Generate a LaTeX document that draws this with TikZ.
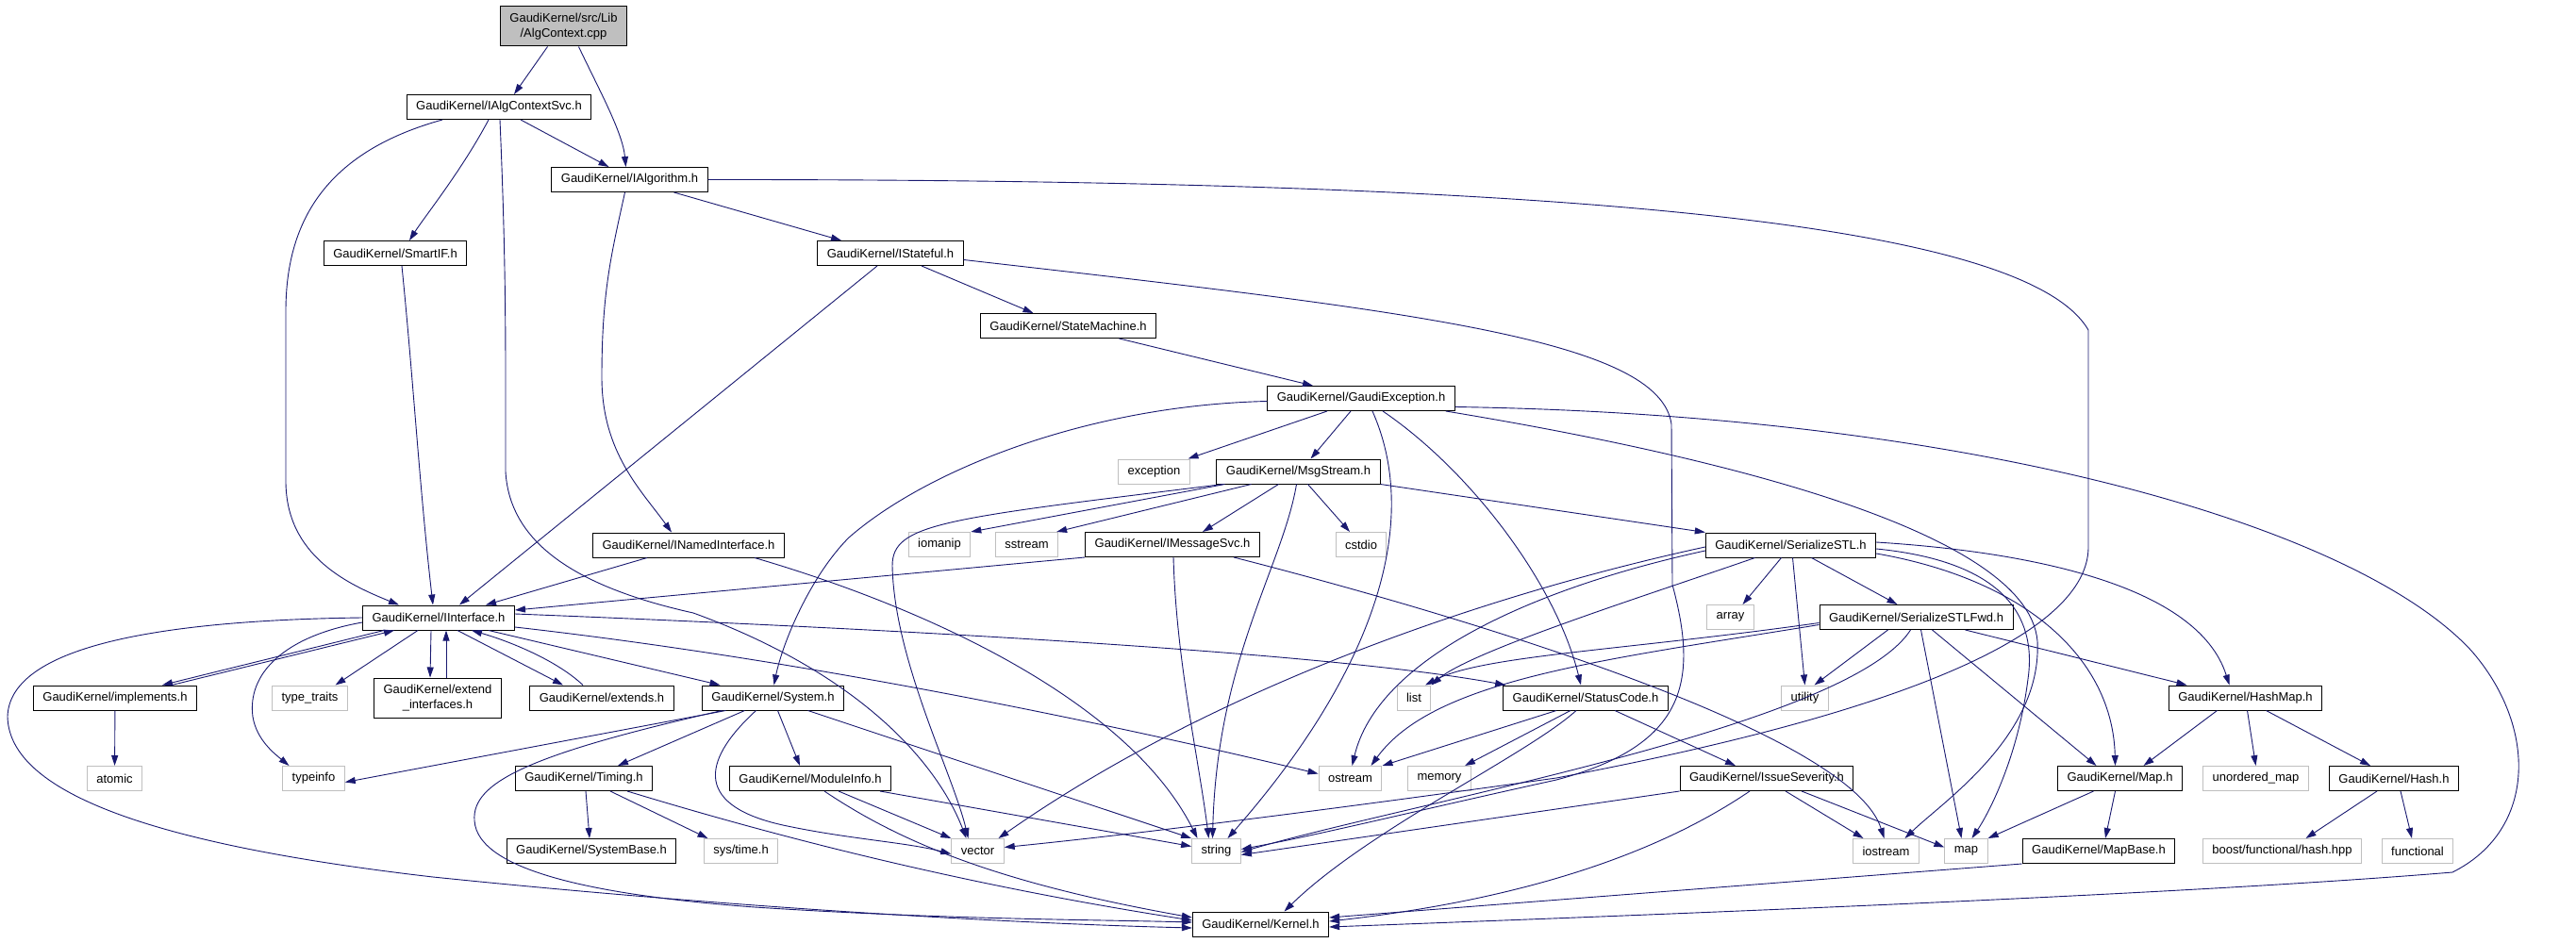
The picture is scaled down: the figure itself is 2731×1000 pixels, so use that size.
\documentclass[tikz,border=0pt]{standalone}
\usepackage{fontspec}
\setmainfont{Liberation Sans}
\usetikzlibrary{arrows.meta}
\definecolor{edgeblue}{RGB}{25,25,112}
\definecolor{sysgray}{RGB}{191,191,191}

\begin{document}
\begin{tikzpicture}[x=1pt,y=-1pt,->,>={Triangle[length=11pt,width=7pt]},
      every node/.style={font=\fontsize{13}{16}\selectfont},
      file/.style={draw=black,line width=1pt,inner xsep=10pt,inner ysep=2pt,minimum height=26pt,align=center},
      sys/.style={file,draw=sysgray},
      twoline/.style={file,minimum height=42pt},
      dep/.style={color=edgeblue,line width=0.9pt}]
			\fill[white] (0,0) rectangle (2731,1000);
			\useasboundingbox (0,0) rectangle (2731,1000);
			\node[twoline,fill=sysgray] (cpp) at (597.5,28) {GaudiKernel/src/Lib\\/AlgContext.cpp};
			\node[file] (algsvc) at (529,113.5) {GaudiKernel/IAlgContextSvc.h};
			\node[file] (ialg) at (667.5,190.5) {GaudiKernel/IAlgorithm.h};
			\node[file] (smartif) at (419,268.5) {GaudiKernel/SmartIF.h};
			\node[file] (istateful) at (944,268.5) {GaudiKernel/IStateful.h};
			\node[file] (statem) at (1132.5,345.5) {GaudiKernel/StateMachine.h};
			\node[file] (gexc) at (1443,422.5) {GaudiKernel/GaudiException.h};
			\node[sys] (exception) at (1223.5,500) {exception};
			\node[file] (msgstream) at (1376.5,500) {GaudiKernel/MsgStream.h};
			\node[file] (inamed) at (730,578) {GaudiKernel/INamedInterface.h};
			\node[sys] (iomanip) at (996,577.5) {iomanip};
			\node[sys] (sstream) at (1088.5,577.5) {sstream};
			\node[file] (imsgsvc) at (1243,577.5) {GaudiKernel/IMessageSvc.h};
			\node[sys] (cstdio) at (1443,577.5) {cstdio};
			\node[file] (sstl) at (1898.5,578) {GaudiKernel/SerializeSTL.h};
			\node[file] (iintf) at (465,655) {GaudiKernel/IInterface.h};
			\node[sys] (array) at (1834.5,654.5) {array};
			\node[file] (sstlfwd) at (2031.5,654.5) {GaudiKernel/SerializeSTLFwd.h};
			\node[file] (implements) at (122,740) {GaudiKernel/implements.h};
			\node[sys] (typetraits) at (328.5,740) {type\_traits};
			\node[twoline] (extendif) at (464,740) {GaudiKernel/extend\\\_interfaces.h};
			\node[file] (extends) at (638,740) {GaudiKernel/extends.h};
			\node[file] (system) at (819.5,740) {GaudiKernel/System.h};
			\node[sys] (list) at (1499,740) {list};
			\node[file] (statuscode) at (1681,740) {GaudiKernel/StatusCode.h};
			\node[sys] (utility) at (1913.5,740) {utility};
			\node[file] (hashmap) at (2380.5,740) {GaudiKernel/HashMap.h};
			\node[sys] (atomic) at (121.5,825.5) {atomic};
			\node[sys] (typeinfo) at (332.5,825.5) {typeinfo};
			\node[file] (timing) at (619,825.5) {GaudiKernel/Timing.h};
			\node[file] (moduleinfo) at (859,825.5) {GaudiKernel/ModuleInfo.h};
			\node[sys] (ostream) at (1431.5,825.5) {ostream};
			\node[sys] (memory) at (1526,825.5) {memory};
			\node[file] (issuesev) at (1873,825.5) {GaudiKernel/IssueSeverity.h};
			\node[file] (maph) at (2247.5,825.5) {GaudiKernel/Map.h};
			\node[sys] (unorderedmap) at (2391.5,825.5) {unordered\_map};
			\node[file] (hash) at (2538,825.5) {GaudiKernel/Hash.h};
			\node[file] (systembase) at (627,902.5) {GaudiKernel/SystemBase.h};
			\node[sys] (systime) at (785.5,902.5) {sys/time.h};
			\node[sys] (vector) at (1036.5,902.5) {vector};
			\node[sys] (string) at (1289.5,902.5) {string};
			\node[sys] (iostream) at (1999.5,902.5) {iostream};
			\node[sys] (map) at (2084.5,902.5) {map};
			\node[file] (mapbase) at (2225,902.5) {GaudiKernel/MapBase.h};
			\node[sys] (boosthash) at (2419.5,902.5) {boost/functional/hash.hpp};
			\node[sys] (functional) at (2563,902.5) {functional};
			\node[file] (kernel) at (1336.5,980) {GaudiKernel/Kernel.h};
			\path[dep]
				([xshift=-17pt]cpp.south) edge ([xshift=16pt]algsvc.north)
				([xshift=23pt]algsvc.south) edge ([xshift=-22pt]ialg.north)
				([xshift=47pt]ialg.south) edge ([xshift=-52pt]istateful.north)
				([xshift=33pt]istateful.south) edge ([xshift=-37pt]statem.north)
				([xshift=-14pt]istateful.south) edge ([xshift=22pt]iintf.north)
				([xshift=54pt]statem.south) edge ([xshift=-51pt]gexc.north)
				([xshift=-36pt]gexc.south) edge ([xshift=36pt]exception.north)
				([xshift=-11pt]gexc.south) edge ([xshift=13pt]msgstream.north)
				([xshift=-78pt]msgstream.south) edge (iomanip.north east)
				([xshift=-50pt]msgstream.south) edge ([xshift=-2pt]sstream.north east)
				([xshift=-21pt]msgstream.south) edge ([xshift=32pt]imsgsvc.north)
				([xshift=10pt]msgstream.south) edge ([xshift=-12pt]cstdio.north)
				(msgstream.south east) edge (sstl.north west)
				(imsgsvc.south west) edge ([yshift=8pt]iintf.east)
				([xshift=-44pt]inamed.south) edge ([xshift=50pt]iintf.north)
				([xshift=-58pt]iintf.south) edge ([xshift=50pt]implements.north)
				([xshift=60pt]implements.north) edge ([xshift=-47pt]iintf.south)
				([xshift=-22pt]iintf.south) edge ([xshift=27pt]typetraits.north)
				([xshift=-8pt]iintf.south) edge ([xshift=-8pt]extendif.north)
				([xshift=9pt]extendif.north) edge ([xshift=8pt]iintf.south)
				([xshift=20pt]iintf.south) edge ([xshift=-41pt]extends.north)
				([xshift=53pt]iintf.south) edge ([xshift=-56pt]system.north)
				(implements) edge (atomic)
				([xshift=-50pt]system.south) edge ([yshift=-4pt]typeinfo.east)
				([xshift=-30pt]system.south) edge ([xshift=36pt]timing.north)
				([xshift=5pt]system.south) edge ([xshift=-11pt]moduleinfo.north)
				([xshift=37pt]system.south) edge (string.north west)
				([xshift=2pt]timing.south) edge ([xshift=-2pt]systembase.north)
				([xshift=28pt]timing.south) edge ([xshift=-35pt]systime.north)
				([xshift=30pt]moduleinfo.south) edge (vector.north west)
				([xshift=74pt]moduleinfo.south) edge ([yshift=5pt]string.west)
				([xshift=-31pt]statuscode.south) edge (ostream.north east)
				([xshift=-16pt]statuscode.south) edge ([xshift=27pt]memory.north)
				([xshift=31pt]statuscode.south) edge ([xshift=-33pt]issuesev.north)
				([xshift=20pt]issuesev.south) edge ([xshift=-24pt]iostream.north)
				([xshift=37pt]issuesev.south) edge ([yshift=4pt]map.west)
				(issuesev.south west) edge ([yshift=-4pt]string.east)
				([xshift=-10pt]sstl.south) edge ([xshift=13pt]array.north)
				([xshift=2pt]sstl.south) edge (utility.north)
				([xshift=22pt]sstl.south) edge ([xshift=-20pt]sstlfwd.north)
				([xshift=-30pt]sstlfwd.south) edge ([xshift=10pt]utility.north)
				([xshift=5pt]sstlfwd.south) edge ([xshift=-5pt]map.north)
				([xshift=17pt]sstlfwd.south) edge ([xshift=-25pt]maph.north)
				([xshift=52pt]sstlfwd.south) edge ([xshift=-62pt]hashmap.north)
				([xshift=-30pt]hashmap.south) edge ([xshift=25pt]maph.north)
				([xshift=2pt]hashmap.south) edge (unorderedmap.north)
				([xshift=22pt]hashmap.south) edge ([xshift=-25pt]hash.north)
				([xshift=-18pt]hash.south) edge ([xshift=25pt]boosthash.north)
				([xshift=7pt]hash.south) edge ([xshift=-6pt]functional.north)
				([xshift=-28pt]maph.south) edge (map.north east)
				([xshift=-5pt]maph.south) edge ([xshift=7pt]mapbase.north)
				(mapbase.south west) edge ([yshift=7pt]kernel.east);
			\draw[dep] ([xshift=16pt]cpp.south) .. controls (635,95) and (660,140) .. ([xshift=-4pt]ialg.north);
			\draw[dep] ([xshift=-60pt]algsvc.south) .. controls (350,160) and (303,230) .. (303,330) -- (303,510) .. controls (303,590) and (370,620) .. ([xshift=-42pt]iintf.north);
			\draw[dep] ([xshift=-11pt]algsvc.south) .. controls (490,180) and (450,230) .. ([xshift=15pt]smartif.north);
			\draw[dep] ([xshift=1pt]algsvc.south) .. controls (534,220) and (536,300) .. (536,400) -- (536,500) .. controls (540,570) and (600,620) .. (735,650) .. controls (900,710) and (990,800) .. ([xshift=-12pt]vector.north);
			\draw[dep] ([xshift=-5pt]ialg.south) .. controls (648,270) and (638,310) .. (638,400) .. controls (638,480) and (680,520) .. ([xshift=-18pt]inamed.north);
			\draw[dep] (ialg.east) .. controls (1700,190) and (2150,240) .. (2214,350) -- (2214,580) .. controls (2214,650) and (2100,740) .. (1650,825) .. controls (1400,860) and (1200,885) .. ([yshift=4pt]vector.east);
			\draw[dep] ([xshift=7pt]smartif.south) .. controls (438,400) and (445,520) .. ([xshift=-6pt]iintf.north);
			\draw[dep] ([yshift=-7pt]istateful.east) .. controls (1500,330) and (1760,360) .. (1772,450) -- (1773,620) .. controls (1800,720) and (1790,790) .. (1650,827) .. controls (1500,860) and (1400,885) .. ([yshift=2pt]string.east);
			\draw[dep] ([yshift=-3pt]gexc.west) .. controls (1150,430) and (980,500) .. (900,570) .. controls (860,610) and (830,680) .. ([xshift=1pt]system.north);
			\draw[dep] ([xshift=12pt]gexc.south) .. controls (1510,560) and (1450,720) .. ([xshift=12pt]string.north);
			\draw[dep] ([xshift=23pt]gexc.south) .. controls (1560,500) and (1650,620) .. ([xshift=-5pt]statuscode.north);
			\draw[dep] ([xshift=-10pt]gexc.south east) .. controls (1800,480) and (2150,560) .. (2160,680) .. controls (2165,780) and (2060,850) .. ([xshift=20pt]iostream.north);
			\draw[dep] ([yshift=-9pt]gexc.east) .. controls (2100,440) and (2500,560) .. (2620,690) .. controls (2690,770) and (2690,880) .. (2600,925) .. controls (2300,950) and (1700,972) .. ([yshift=-3pt]kernel.east);
			\draw[dep] ([xshift=-2pt]msgstream.south) .. controls (1360,600) and (1290,700) .. ([xshift=-4pt]string.north);
			\draw[dep] ([xshift=-80pt]msgstream.south) .. controls (1000,550) and (946,555) .. (946,600) .. controls (948,700) and (1010,820) .. ([xshift=-10pt]vector.north);
			\draw[dep] ([xshift=1pt]imsgsvc.south) .. controls (1247,700) and (1270,800) .. ([xshift=-8pt]string.north);
			\draw[dep] ([xshift=65pt]imsgsvc.south) .. controls (1500,640) and (1960,770) .. ([xshift=-2pt]iostream.north);
			\draw[dep] ([xshift=70pt]inamed.south) .. controls (1000,650) and (1200,750) .. ([xshift=-20pt]string.north);
			\draw[dep] ([xshift=-20pt]extends.north) .. controls (590,700) and (540,680) .. ([xshift=35pt]iintf.south);
			\draw[dep] ([yshift=-5pt]iintf.west) .. controls (300,675) and (262,715) .. (268,760) .. controls (272,785) and (292,800) .. ([xshift=-26pt]typeinfo.north);
			\draw[dep] (iintf.west) .. controls (150,658) and (10,690) .. (8,760) .. controls (10,850) and (200,900) .. (459,930) .. controls (800,965) and (1100,980) .. ([yshift=-4pt]kernel.west);
			\draw[dep] ([yshift=-10pt]iintf.east) .. controls (900,705) and (1250,785) .. ([yshift=5pt]ostream.west);
			\draw[dep] ([yshift=4pt]iintf.east) .. controls (900,665) and (1400,690) .. ([xshift=3pt]statuscode.north west);
			\draw[dep] ([xshift=-54pt]system.south) .. controls (560,800) and (500,830) .. (503,870) .. controls (506,925) and (640,950) .. (800,962) .. controls (1000,975) and (1150,975) .. ([yshift=2pt]kernel.west);
			\draw[dep] ([xshift=-18pt]system.south) .. controls (740,810) and (740,855) .. (830,875) .. controls (900,890) and (960,893) .. ([yshift=-3pt]vector.west);
			\draw[dep] ([xshift=46pt]timing.south) .. controls (800,880) and (1000,935) .. ([yshift=4pt]kernel.west);
			\draw[dep] ([xshift=15pt]moduleinfo.south) .. controls (950,890) and (1050,935) .. ([yshift=7pt]kernel.west);
			\draw[dep] ([xshift=-10pt]statuscode.south) .. controls (1620,800) and (1450,880) .. ([xshift=25pt]kernel.north);
			\draw[dep] ([xshift=-18pt]issuesev.south) .. controls (1780,890) and (1650,950) .. ([yshift=3pt]kernel.east);
			\draw[dep] ([yshift=-2pt]sstl.west) .. controls (1600,625) and (1300,720) .. ([xshift=22pt]vector.north);
			\draw[dep] ([yshift=-6pt]sstl.west) .. controls (1620,625) and (1460,700) .. ([xshift=2pt]ostream.north);
			\draw[dep] ([xshift=-38pt]sstl.south) .. controls (1750,630) and (1560,690) .. (list.north east);
			\draw[dep] ([yshift=3pt]sstl.east) .. controls (2150,585) and (2330,620) .. ([xshift=-17pt]hashmap.north);
			\draw[dep] ([yshift=-4pt]sstl.east) .. controls (2120,595) and (2160,650) .. (2150,720) .. controls (2140,800) and (2110,860) .. ([xshift=6pt]map.north);
			\draw[dep] ([yshift=-9pt]sstl.east) .. controls (2150,615) and (2240,700) .. ([xshift=-5pt]maph.north);
			\draw[dep] ([yshift=-6pt]sstlfwd.west) .. controls (1720,690) and (1570,695) .. ([xshift=12pt]list.north);
			\draw[dep] ([yshift=-8pt]sstlfwd.west) .. controls (1700,700) and (1520,720) .. ([xshift=22pt]ostream.north);
			\draw[dep] ([xshift=-6pt]sstlfwd.south) .. controls (1960,770) and (1500,850) .. ([yshift=-1pt]string.east);
		\end{tikzpicture}
\end{document}
